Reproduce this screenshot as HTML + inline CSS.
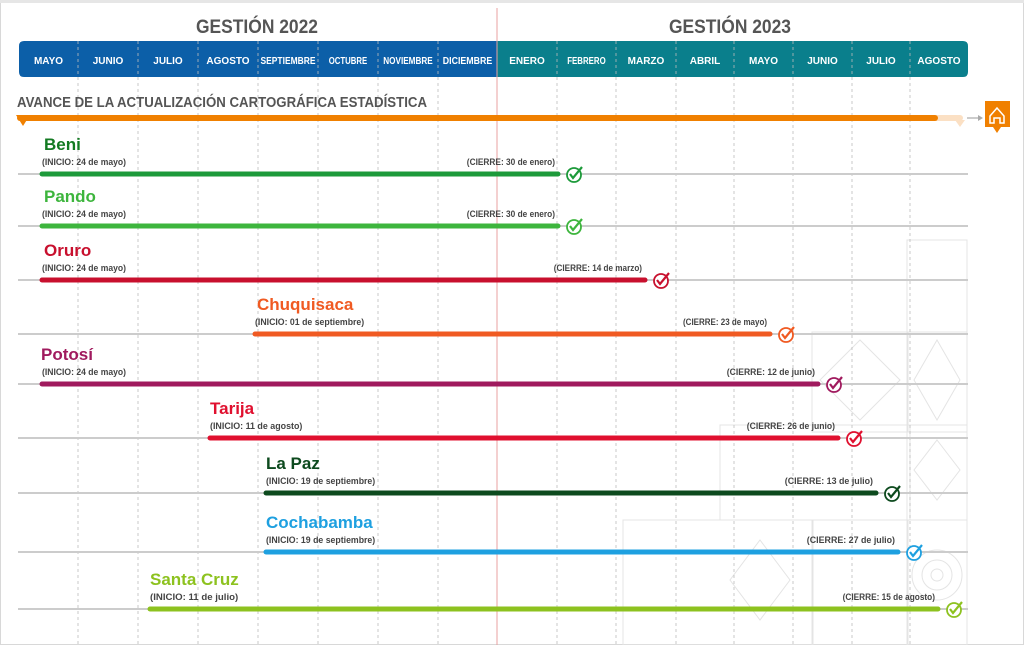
<!DOCTYPE html>
<html><head><meta charset="utf-8">
<style>
html,body{margin:0;padding:0;background:#fff;}
body{width:1024px;height:645px;overflow:hidden;position:relative;font-family:"Liberation Sans",sans-serif;}
svg{position:absolute;left:0;top:0;}
</style></head><body>
<svg id="s" width="1024" height="645" viewBox="0 0 1024 645" xmlns="http://www.w3.org/2000/svg">
<rect x="0.5" y="0.5" width="1023" height="644" fill="#fff" stroke="#d8d8d8"/>
<rect x="0" y="0" width="1024" height="3" fill="#e6e6e6"/>
<g stroke="#e4e4e4" fill="none" stroke-width="1">
<rect x="907" y="240" width="60" height="92"/><rect x="812" y="332" width="96" height="100"/><rect x="907" y="332" width="60" height="100"/>
<rect x="720" y="425" width="190" height="95"/><rect x="907" y="425" width="60" height="95"/>
<rect x="623" y="520" width="190" height="125"/><rect x="812" y="520" width="96" height="125"/><rect x="907" y="520" width="60" height="125"/>
<path d="M937 340 L960 380 L937 420 L914 380Z M860 340 L900 380 L860 420 L820 380Z M937 440 L960 470 L937 500 L914 470Z M760 540 L790 580 L760 620 L730 580Z"/>
<circle cx="937" cy="575" r="25"/><circle cx="937" cy="575" r="15"/><circle cx="937" cy="575" r="6"/>
</g>
<text x="196" y="33" font-size="19" font-weight="bold" fill="#555" textLength="122" lengthAdjust="spacingAndGlyphs">GESTIÓN 2022</text>
<text x="669" y="33" font-size="19" font-weight="bold" fill="#555" textLength="122" lengthAdjust="spacingAndGlyphs">GESTIÓN 2023</text>
<path d="M24 41 H497 V77 H24 Q19 77 19 72 V46 Q19 41 24 41Z" fill="#0c5fa8"/>
<path d="M497 41 H963 Q968 41 968 46 V72 Q968 77 963 77 H497Z" fill="#0a7f8c"/>
<line x1="497" y1="8" x2="497" y2="645" stroke="#e8a0a0" stroke-width="1"/>
<g id="grid" stroke="#bbb" stroke-width="0.8" stroke-dasharray="3,3"></g>
<g id="months" font-size="10" font-weight="bold" fill="#fff" text-anchor="middle"></g>
<text x="17" y="107" font-size="14.5" font-weight="bold" fill="#555" textLength="410" lengthAdjust="spacingAndGlyphs">AVANCE DE LA ACTUALIZACIÓN CARTOGRÁFICA ESTADÍSTICA</text>
<line x1="20" y1="118" x2="960" y2="118" stroke="#fbe0c4" stroke-width="6" stroke-linecap="round"/>
<line x1="20" y1="118" x2="935" y2="118" stroke="#f08000" stroke-width="6" stroke-linecap="round"/>
<path d="M16 115 L30 115 L23 126Z" fill="#f08000"/>
<path d="M955 120 L965 120 L960 127Z" fill="#fbe0c4"/>
<line x1="967" y1="118" x2="978" y2="118" stroke="#aaa" stroke-width="1.2"/><path d="M978 115 L983 118 L978 121Z" fill="#aaa"/>
<path d="M985 101 H1010 V127 H1001 L997 133 L993 127 H985Z" fill="#f08000"/>
<path d="M990 116 L997 108 L1004 116 V123 H1000 V118 H994 V123 H990Z" fill="none" stroke="#fff" stroke-width="1.5"/>
<g id="rows"></g>
</svg>
<script>
var NS="http://www.w3.org/2000/svg";
function el(p,t,a,txt){var e=document.createElementNS(NS,t);for(var k in a)e.setAttribute(k,a[k]);if(txt)e.textContent=txt;document.getElementById(p).appendChild(e);return e;}
var xs=[78,138,198,258,318,378,438,557,616,676,734,793,852,910];
xs.forEach(function(x){el('grid','line',{x1:x,y1:41,x2:x,y2:645});});
var m=["MAYO","JUNIO","JULIO","AGOSTO","SEPTIEMBRE","OCTUBRE","NOVIEMBRE","DICIEMBRE","ENERO","FEBRERO","MARZO","ABRIL","MAYO","JUNIO","JULIO","AGOSTO"];
var b=[19,78,138,198,258,318,378,438,497,557,616,676,734,793,852,910,968];
m.forEach(function(t,i){var a={x:(b[i]+b[i+1])/2,y:64};if(t.length>=7){a.textLength=t.length*5.5;a.lengthAdjust='spacingAndGlyphs';}el('months','text',a,t);});
var R=[
["Beni","#137a22","#1d9a3a",42,558,174,"24 de mayo","30 de enero",44],
["Pando","#3db53d","#3db53d",42,558,226,"24 de mayo","30 de enero",44],
["Oruro","#c8102e","#c8102e",42,645,280,"24 de mayo","14 de marzo",44],
["Chuquisaca","#f05a22","#f05a22",255,770,334,"01 de septiembre","23 de mayo",257],
["Potosí","#a01a5e","#a01a5e",42,818,384,"24 de mayo","12 de junio",41],
["Tarija","#e0102f","#e0102f",210,838,438,"11 de agosto","26 de junio",210],
["La Paz","#0d4a1e","#0d4a1e",266,876,493,"19 de septiembre","13 de julio",266],
["Cochabamba","#1ea0e0","#1ea0e0",266,898,552,"19 de septiembre","27 de julio",266],
["Santa Cruz","#8dc21f","#8dc21f",150,938,609,"11 de julio","15 de agosto",150]];
R.forEach(function(r){var y=r[5];
el('rows','line',{x1:18,y1:y,x2:968,y2:y,stroke:'#ccc','stroke-width':2});
el('rows','line',{x1:r[3],y1:y,x2:r[4],y2:y,stroke:r[2],'stroke-width':5,'stroke-linecap':'round'});
el('rows','text',{x:r[8],y:y-24,'font-size':17,'font-weight':'bold',fill:r[1]},r[0]);
var s1="(INICIO: "+r[6]+")",s2="(CIERRE: "+r[7]+")";
el('rows','text',{x:r[3],y:y-9,'font-size':9.5,'font-weight':'bold',fill:'#444',textLength:s1.length*4.2,lengthAdjust:'spacingAndGlyphs'},s1);
el('rows','text',{x:r[4]-3-s2.length*4.2,y:y-9,'font-size':9.5,'font-weight':'bold',fill:'#444',textLength:s2.length*4.2,lengthAdjust:'spacingAndGlyphs'},s2);
var cx=r[4]+16;
el('rows','circle',{cx:cx,cy:y+1,r:7,fill:'#fff',stroke:r[2],'stroke-width':1.8});
el('rows','path',{d:'M'+(cx-4)+' '+(y)+' L'+(cx-1)+' '+(y+4)+' L'+(cx+8)+' '+(y-7),fill:'none',stroke:r[2],'stroke-width':2.2});
});
</script>
</body></html>
